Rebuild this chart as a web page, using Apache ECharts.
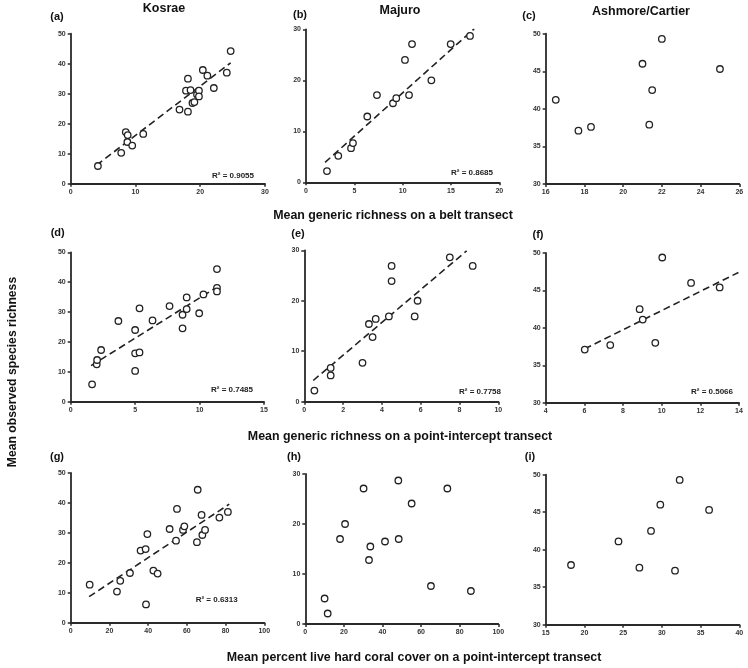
<!DOCTYPE html>
<html><head><meta charset="utf-8">
<script src="https://cdn.jsdelivr.net/npm/echarts@6/dist/echarts.min.js"></script>
<style>html,body{margin:0;padding:0;background:#fff;}#c{width:748px;height:668px;}</style>
</head><body><div id="c"></div>
<script>
// ---- Data ----
// (a) Kosrae, belt transect generic richness vs species richness
const aX = [4.2,7.8,8.5,8.8,8.75,9.5,11.2,16.8,18.1,17.8,18.1,18.5,18.8,19.1,19.5,19.8,19.8,20.4,21.1,22.1,24.1,24.7];
const aY = [5.9,10.3,17.2,16.2,13.9,12.7,16.6,24.7,24.0,31.0,35.0,31.2,26.9,27.2,29.7,31.0,29.1,37.9,36.0,31.9,37.0,44.2];
const aTrendX = [4.0, 24.7];
const aTrendY = [6.2, 40.3];
const aXTicks = [0,10,20,30];
const aYTicks = [0,10,20,30,40,50];
// (b) Majuro, belt transect
const bX = [2.17,3.34,4.66,4.86,6.34,7.34,9.0,9.34,10.24,10.66,10.97,12.97,14.97,16.97];
const bY = [2.2,5.2,6.7,7.7,12.9,17.1,15.5,16.5,24.0,17.1,27.1,20.0,27.1,28.7];
const bTrendX = [1.97, 17.4];
const bTrendY = [3.9, 30.1];
const bXTicks = [0,5,10,15,20];
const bYTicks = [0,10,20,30];
// (c) Ashmore/Cartier, belt transect
const cX = [16.52,17.69,18.34,21.0,21.5,21.35,22.0,25.0];
const cY = [41.2,37.1,37.6,46.0,42.5,37.9,49.3,45.3];
const cXTicks = [16,18,20,22,24,26];
const cYTicks = [30,35,40,45,50];
// (d) Kosrae, point-intercept generic richness
const dX = [1.66,2.02,2.05,2.36,3.7,5.0,5.0,5.0,5.34,5.34,6.35,7.67,8.68,8.68,9.0,9.0,9.97,10.3,11.35,11.35,11.35];
const dY = [5.8,12.5,13.95,17.3,27.0,10.3,16.2,24.0,16.5,31.25,27.2,32.0,24.55,29.1,31.0,34.9,29.6,35.9,44.4,38.1,36.9];
const dTrendX = [1.58, 11.4];
const dTrendY = [12.05, 38.5];
const dXTicks = [0,5,10,15];
const dYTicks = [0,10,20,30,40,50];
// (e) Majuro, point-intercept generic richness
const eX = [0.52,1.36,1.36,3.0,3.33,3.52,3.68,4.36,4.5,4.5,5.69,5.84,7.5,8.68];
const eY = [2.2,6.7,5.2,7.7,15.4,12.8,16.4,16.9,23.9,26.9,16.9,20.0,28.6,26.9];
const eTrendX = [0.46, 8.37];
const eTrendY = [4.2, 29.9];
const eXTicks = [0,2,4,6,8,10];
const eYTicks = [0,10,20,30];
// (f) Ashmore/Cartier, point-intercept generic richness
const fX = [6.02,7.34,8.86,9.02,9.67,10.03,11.52,13.0];
const fY = [37.1,37.7,42.5,41.1,38.0,49.4,46.0,45.4];
const fTrendX = [6.02, 13.97];
const fTrendY = [37.2, 47.4];
const fXTicks = [4,6,8,10,12,14];
const fYTicks = [30,35,40,45,50];
// (g) Kosrae, percent live hard coral cover
const gX = [9.8,23.9,25.6,30.6,36.1,38.7,38.9,39.6,42.7,44.9,51.1,54.4,54.9,58.0,58.7,65.2,65.6,67.6,68.0,69.4,76.8,81.2];
const gY = [12.7,10.4,14.0,16.6,24.1,24.6,6.1,29.6,17.4,16.4,31.3,27.4,38.0,31.0,32.2,26.9,44.4,36.0,29.3,31.0,35.1,37.0];
const gTrendX = [9.5, 81.9];
const gTrendY = [8.7, 39.6];
const gXTicks = [0,20,40,60,80,100];
const gYTicks = [0,10,20,30,40,50];
// (h) Majuro, percent live hard coral cover
const hX = [10.0,11.6,18.0,20.6,30.2,33.0,33.7,41.3,48.2,48.4,55.1,65.1,73.6,85.8];
const hY = [5.1,2.1,17.0,20.0,27.1,12.8,15.5,16.5,28.7,17.0,24.1,7.6,27.1,6.6];
const hXTicks = [0,20,40,60,80,100];
const hYTicks = [0,10,20,30];
// (i) Ashmore/Cartier, percent live hard coral cover
const iX = [18.27,24.4,27.1,28.6,29.8,31.7,32.3,36.1];
const iY = [37.96,41.1,37.6,42.5,46.0,37.2,49.3,45.3];
const iXTicks = [15,20,25,30,35,40];
const iYTicks = [30,35,40,45,50];

const panelLabels = ['(a)','(b)','(c)','(d)','(e)','(f)','(g)','(h)','(i)'];
const siteTitles = ['Kosrae','Majuro','Ashmore/Cartier'];
const r2Labels = ['R² = 0.9055','R² = 0.8685',null,'R² = 0.7485','R² = 0.7758','R² = 0.5066','R² = 0.6313',null,null];
const rowTitles = ['Mean generic richness on a belt transect','Mean generic richness on a point-intercept transect','Mean percent live hard coral cover on a point-intercept transect'];
const yTitle = 'Mean observed species richness';

// ---- Layout ----
const grids = [
  {left:70.7, top:33.7, width:194.3, height:150},
  {left:306, top:29.3, width:193.3, height:153},
  {left:545.7, top:33.7, width:193.6, height:150.3},
  {left:70.7, top:252.3, width:193.3, height:149.4},
  {left:304.3, top:250.3, width:194, height:151.4},
  {left:545.7, top:253, width:193.3, height:149.7},
  {left:70.7, top:473, width:193.6, height:149.7},
  {left:305.3, top:474, width:193, height:150},
  {left:545.7, top:474.7, width:193.6, height:150}
];
const panelData = [
  {x:aX,y:aY,tx:aTrendX,ty:aTrendY,xt:aXTicks,yt:aYTicks},
  {x:bX,y:bY,tx:bTrendX,ty:bTrendY,xt:bXTicks,yt:bYTicks},
  {x:cX,y:cY,xt:cXTicks,yt:cYTicks},
  {x:dX,y:dY,tx:dTrendX,ty:dTrendY,xt:dXTicks,yt:dYTicks},
  {x:eX,y:eY,tx:eTrendX,ty:eTrendY,xt:eXTicks,yt:eYTicks},
  {x:fX,y:fY,tx:fTrendX,ty:fTrendY,xt:fXTicks,yt:fYTicks},
  {x:gX,y:gY,tx:gTrendX,ty:gTrendY,xt:gXTicks,yt:gYTicks},
  {x:hX,y:hY,xt:hXTicks,yt:hYTicks},
  {x:iX,y:iY,xt:iXTicks,yt:iYTicks}
];
const r2Pos = [[233,176],[472,172.7],null,[232,390],[480,391.7],[712,392],[216.7,600],null,null];
const labelPos = [[57,17],[300,15],[529,16],[57.7,233],[298,234],[538,235],[57,457],[294,457],[530,457]];
const titlePos = [[164,9],[400,11],[641,12]];
const rowTitlePos = [[393,215.7],[400,437],[414,657.7]];

const FONT = '"Liberation Sans", Arial, sans-serif';
const axisCol = '#2a2a2a';
const xAxes = [], yAxes = [], series = [];
panelData.forEach((p, i) => {
  const axCommon = {
    gridIndex: i, type: 'value',
    axisLine: {show: true, onZero: false, lineStyle: {color: axisCol, width: 1.8}},
    axisTick: {show: true, length: 3, lineStyle: {color: axisCol, width: 1.5}},
    splitLine: {show: false},
    axisLabel: {fontSize: 7, fontWeight: 'bold', color: '#333', fontFamily: FONT, margin: 5}
  };
  xAxes.push(Object.assign({}, axCommon, {min: p.xt[0], max: p.xt[p.xt.length-1], interval: p.xt[1]-p.xt[0]}));
  yAxes.push(Object.assign({}, axCommon, {min: p.yt[0], max: p.yt[p.yt.length-1], interval: p.yt[1]-p.yt[0]}));
  if (p.tx) {
    series.push({
      type: 'line', xAxisIndex: i, yAxisIndex: i, symbol: 'none', silent: true, z: 1,
      data: p.tx.map((v, k) => [v, p.ty[k]]),
      lineStyle: {color: '#222', width: 1.6, type: [7, 4]}
    });
  }
  series.push({
    type: 'scatter', xAxisIndex: i, yAxisIndex: i, symbol: 'circle', symbolSize: 6.5, z: 3,
    data: p.x.map((v, k) => [v, p.y[k]]),
    itemStyle: {color: '#fff', borderColor: '#222', borderWidth: 1.3, opacity: 1}
  });
});

const graphics = [];
siteTitles.forEach((t, i) => graphics.push({type: 'text', x: titlePos[i][0], y: titlePos[i][1],
  style: {text: t, font: 'bold 12.5px ' + FONT, fill: '#111', textAlign: 'center', textVerticalAlign: 'middle'}}));
panelLabels.forEach((t, i) => graphics.push({type: 'text', x: labelPos[i][0], y: labelPos[i][1],
  style: {text: t, font: 'bold 11px ' + FONT, fill: '#111', textAlign: 'center', textVerticalAlign: 'middle'}}));
r2Labels.forEach((t, i) => { if (t) graphics.push({type: 'text', x: r2Pos[i][0], y: r2Pos[i][1],
  style: {text: t, font: 'bold 8px ' + FONT, fill: '#222', textAlign: 'center', textVerticalAlign: 'middle'}}); });
rowTitles.forEach((t, i) => graphics.push({type: 'text', x: rowTitlePos[i][0], y: rowTitlePos[i][1],
  style: {text: t, font: 'bold 12.4px ' + FONT, fill: '#111', textAlign: 'center', textVerticalAlign: 'middle'}}));
graphics.push({type: 'text', x: 13, y: 372, rotation: Math.PI / 2,
  style: {text: yTitle, font: 'bold 12.2px ' + FONT, fill: '#111', textAlign: 'center', textVerticalAlign: 'middle'}});

const chart = echarts.init(document.getElementById('c'), null, {renderer: 'canvas'});
chart.setOption({
  animation: false,
  backgroundColor: '#fff',
  grid: grids.map(g => Object.assign({containLabel: false}, g)),
  xAxis: xAxes, yAxis: yAxes, series: series, graphic: graphics
});
</script></body></html>
